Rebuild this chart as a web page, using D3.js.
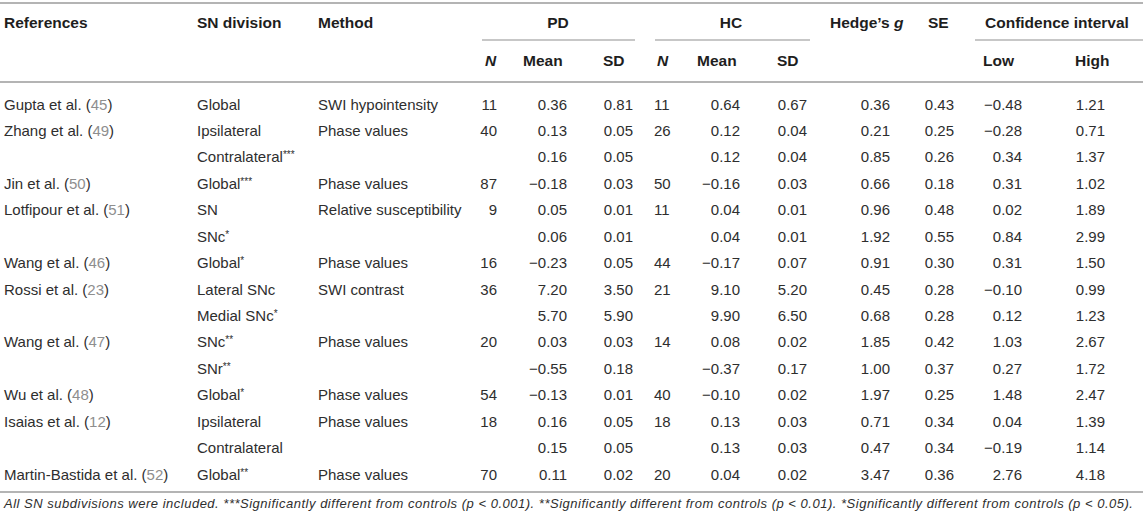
<!DOCTYPE html>
<html>
<head>
<meta charset="utf-8">
<script src="https://cdn.jsdelivr.net/npm/d3@7"></script>
<style>
  html, body { margin: 0; padding: 0; background: #fff; }
  svg text { font-family: "Liberation Sans", Arial, sans-serif; }
</style>
</head>
<body>
<div class="table-chart"></div>
<script>
// 1. Data, one array per column
const references = ["Gupta et al.", "Zhang et al.", "", "Jin et al.", "Lotfipour et al.", "", "Wang et al.", "Rossi et al.", "", "Wang et al.", "", "Wu et al.", "Isaias et al.", "", "Martin-Bastida et al."]
const refNumbers = [45, 49, null, 50, 51, null, 46, 23, null, 47, null, 48, 12, null, 52]
const divisions = ["Global", "Ipsilateral", "Contralateral", "Global", "SN", "SNc", "Global", "Lateral SNc", "Medial SNc", "SNc", "SNr", "Global", "Ipsilateral", "Contralateral", "Global"]
const divisionStars = ["", "", "***", "***", "", "*", "*", "", "*", "**", "**", "*", "", "", "**"]
const methods = ["SWI hypointensity", "Phase values", "", "Phase values", "Relative susceptibility", "", "Phase values", "SWI contrast", "", "Phase values", "", "Phase values", "Phase values", "", "Phase values"]
const pdN = [11, 40, null, 87, 9, null, 16, 36, null, 20, null, 54, 18, null, 70]
const pdMean = [0.36, 0.13, 0.16, -0.18, 0.05, 0.06, -0.23, 7.20, 5.70, 0.03, -0.55, -0.13, 0.16, 0.15, 0.11]
const pdSD = [0.81, 0.05, 0.05, 0.03, 0.01, 0.01, 0.05, 3.50, 5.90, 0.03, 0.18, 0.01, 0.05, 0.05, 0.02]
const hcN = [11, 26, null, 50, 11, null, 44, 21, null, 14, null, 40, 18, null, 20]
const hcMean = [0.64, 0.12, 0.12, -0.16, 0.04, 0.04, -0.17, 9.10, 9.90, 0.08, -0.37, -0.10, 0.13, 0.13, 0.04]
const hcSD = [0.67, 0.04, 0.04, 0.03, 0.01, 0.01, 0.07, 5.20, 6.50, 0.02, 0.17, 0.02, 0.03, 0.03, 0.02]
const hedgesG = [0.36, 0.21, 0.85, 0.66, 0.96, 1.92, 0.91, 0.45, 0.68, 1.85, 1.00, 1.97, 0.71, 0.47, 3.47]
const stdErr = [0.43, 0.25, 0.26, 0.18, 0.48, 0.55, 0.30, 0.28, 0.28, 0.42, 0.37, 0.25, 0.34, 0.34, 0.36]
const ciLow = [-0.48, -0.28, 0.34, 0.31, 0.02, 0.84, 0.31, -0.10, 0.12, 1.03, 0.27, 1.48, 0.04, -0.19, 2.76]
const ciHigh = [1.21, 0.71, 1.37, 1.02, 1.89, 2.99, 1.50, 0.99, 1.23, 2.67, 1.72, 2.47, 1.39, 1.14, 4.18]

const footnote = "All SN subdivisions were included. ***Significantly different from controls (p < 0.001). **Significantly different from controls (p < 0.01). *Significantly different from controls (p < 0.05)."

// 2. Dimensions
const dimensions = {
    width: 1143,
    height: 522,
    topRule: 3,
    groupRule: 40,
    headRule: 82,
    bottomRule: 492,
    head1: 27.5,
    head2: 65.5,
    firstRow: 109.5,
    lastRow: 479.5,
    footY: 507.5,
}

const textColor = "#2e2e2e"
const headColor = "#1e1e1e"
const ruleColor = "#b4b4b4"
const fmt = d3.format(".2f")
const fmtInt = d3.format("d")

// text columns and number columns, with their x anchors
const textCols = { ref: 4, division: 197, method: 318 }

const columns = [
    { values: pdN, f: fmtInt, x: 497, anchor: "end" },
    { values: pdMean, f: fmt, x: 567, anchor: "end" },
    { values: pdSD, f: fmt, x: 633, anchor: "end" },
    { values: hcN, f: fmtInt, x: 654, anchor: "start" },
    { values: hcMean, f: fmt, x: 740, anchor: "end" },
    { values: hcSD, f: fmt, x: 807, anchor: "end" },
    { values: hedgesG, f: fmt, x: 890, anchor: "end" },
    { values: stdErr, f: fmt, x: 954, anchor: "end" },
    { values: ciLow, f: fmt, x: 1022, anchor: "end" },
    { values: ciHigh, f: fmt, x: 1105, anchor: "end" },
]

const topHeaders = [
    { text: "References", x: textCols.ref, anchor: "start" },
    { text: "SN division", x: textCols.division, anchor: "start" },
    { text: "Method", x: textCols.method, anchor: "start" },
    { text: "PD", x: 558, anchor: "middle" },
    { text: "HC", x: 731, anchor: "middle" },
    { text: "Hedge\u2019s ", italic: "g", x: 830, anchor: "start" },
    { text: "SE", x: 928, anchor: "start" },
    { text: "Confidence interval", x: 985, anchor: "start" },
]
const subHeaders = [
    { text: "N", italic: true, x: 485 },
    { text: "Mean", x: 523 },
    { text: "SD", x: 603 },
    { text: "N", italic: true, x: 657 },
    { text: "Mean", x: 697 },
    { text: "SD", x: 777 },
    { text: "Low", x: 983 },
    { text: "High", x: 1075 },
]
const groupRules = [[482, 635], [655, 810], [975, 1143]]

// 3. Canvas
const wrapper = d3.select(".table-chart")
    .append("svg")
    .attr("width", dimensions.width)
    .attr("height", dimensions.height)

// 4. Scales
const yScale = d3.scalePoint()
    .domain(d3.range(references.length))
    .range([dimensions.firstRow, dimensions.lastRow])

// 5. Rules
const rules = wrapper.append("g")
    .attr("stroke", ruleColor)

rules.selectAll(".full-rule")
    .data([dimensions.topRule, dimensions.headRule, dimensions.bottomRule])
    .join("line")
    .attr("x1", 0).attr("x2", dimensions.width)
    .attr("y1", d => d).attr("y2", d => d)
    .attr("stroke-width", 2)

rules.selectAll(".group-rule")
    .data(groupRules)
    .join("line")
    .attr("x1", d => d[0]).attr("x2", d => d[1])
    .attr("y1", dimensions.groupRule).attr("y2", dimensions.groupRule)
    .attr("stroke-width", 1.3)

// 6. Headers
const head = wrapper.append("g")
    .attr("font-size", 15.5)
    .attr("font-weight", "bold")
    .attr("fill", headColor)

const topText = head.selectAll(".top")
    .data(topHeaders)
    .join("text")
    .attr("x", d => d.x)
    .attr("y", dimensions.head1)
    .attr("text-anchor", d => d.anchor)
    .text(d => d.text)
topText.filter(d => d.italic)
    .append("tspan")
    .attr("font-style", "italic")
    .text(d => d.italic)

head.selectAll(".sub")
    .data(subHeaders)
    .join("text")
    .attr("x", d => d.x)
    .attr("y", dimensions.head2)
    .attr("font-style", d => d.italic ? "italic" : null)
    .text(d => d.text)

// 7. Body
const body = wrapper.append("g")
    .attr("font-size", 15)
    .attr("fill", textColor)

const rows = references.map((r, i) => ({
    i,
    ref: r,
    num: refNumbers[i],
    division: divisions[i],
    stars: divisionStars[i],
    method: methods[i],
}))

const refText = body.selectAll(".ref")
    .data(rows.filter(d => d.ref))
    .join("text")
    .attr("x", textCols.ref)
    .attr("y", d => yScale(d.i))
    .text(d => d.ref + " (")
refText.append("tspan").attr("fill", "#8e8e8e").text(d => d.num)
refText.append("tspan").text(")")

const divText = body.selectAll(".division")
    .data(rows)
    .join("text")
    .attr("x", textCols.division)
    .attr("y", d => yScale(d.i))
    .text(d => d.division)
divText.filter(d => d.stars)
    .append("tspan")
    .attr("font-size", 10)
    .attr("dy", -4)
    .text(d => d.stars)

body.selectAll(".method")
    .data(rows.filter(d => d.method))
    .join("text")
    .attr("x", textCols.method)
    .attr("y", d => yScale(d.i))
    .text(d => d.method)

columns.forEach(col => {
    body.append("g")
        .attr("text-anchor", col.anchor)
        .selectAll("text")
        .data(col.values.map((v, i) => ({ v, i })).filter(d => d.v != null))
        .join("text")
        .attr("x", col.x)
        .attr("y", d => yScale(d.i))
        .text(d => col.f(d.v))
})

// 8. Footnote
wrapper.append("text")
    .attr("x", 4)
    .attr("y", dimensions.footY)
    .attr("font-size", 13)
    .attr("font-style", "italic")
    .attr("fill", textColor)
    .attr("textLength", 1129)
    .attr("lengthAdjust", "spacing")
    .text(footnote)
</script>
</body>
</html>
